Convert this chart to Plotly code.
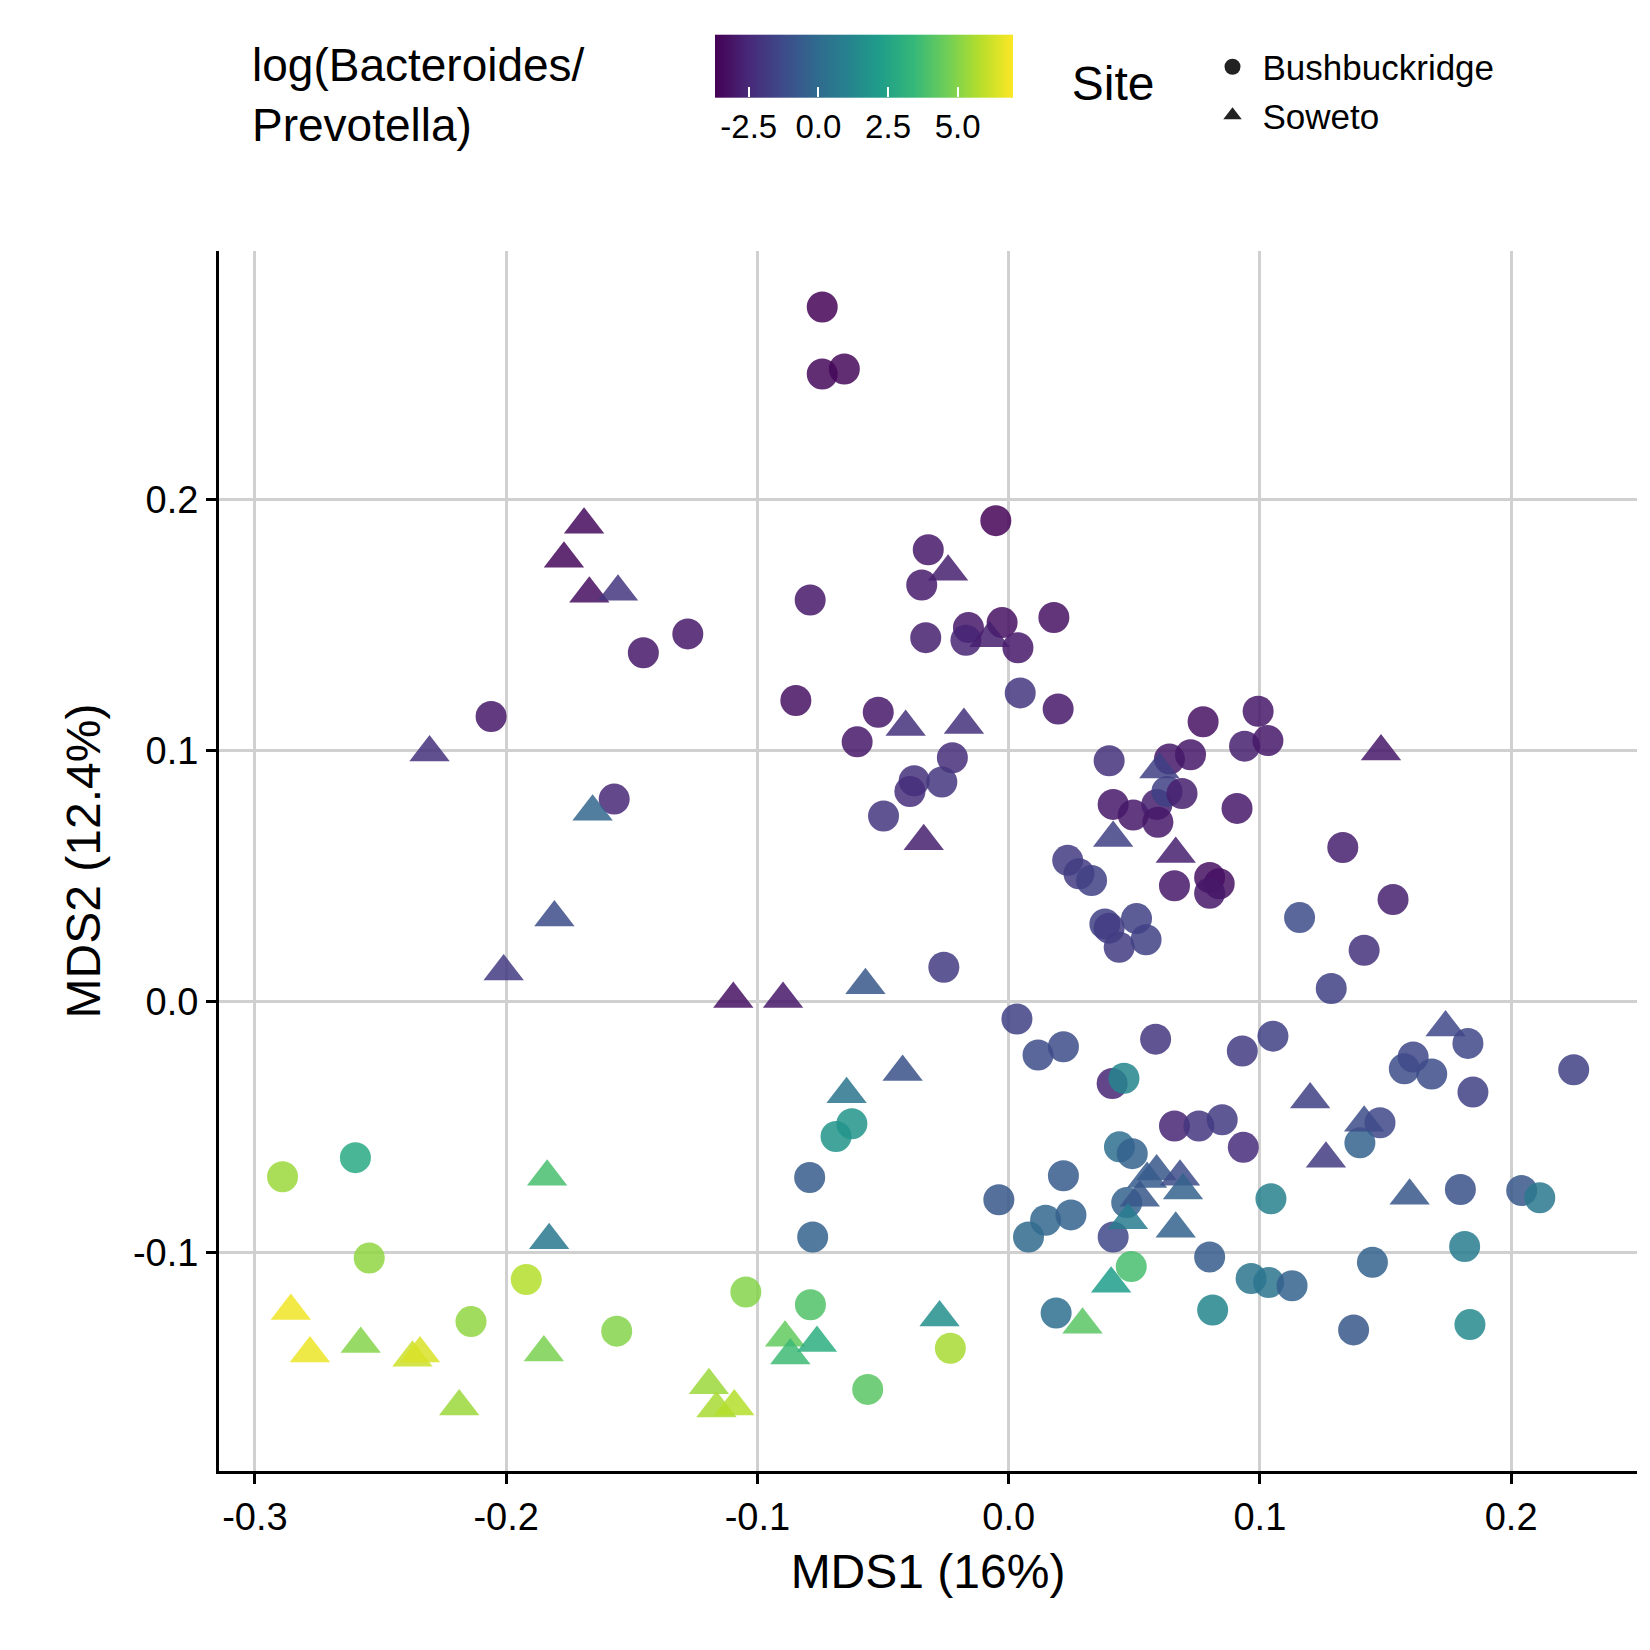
import plotly.graph_objects as go

# Bushbuckridge (circles): MDS1, MDS2, log(Bacteroides/Prevotella)
bb_x = [-0.0742, -0.0742, -0.0654, -0.0051, -0.032, -0.0346, -0.033, -0.079, -0.016, -0.017, -0.0026, 0.0037, 0.018,
        -0.1277, -0.1454, -0.206, -0.0847, -0.0519, -0.0603, 0.0046, 0.0197, -0.0224, -0.0376, -0.0393, -0.0266, -0.0498,
        -0.157, 0.040, 0.0416, 0.0496, 0.059, 0.0594, 0.064, 0.063, 0.069, 0.0724, 0.0774, 0.0993, 0.0939, 0.1032, 0.0909,
        0.066, 0.080, 0.0838, 0.080, 0.133, 0.153, 0.0235, 0.028, 0.033, 0.0383, 0.040, 0.044, 0.0509, 0.0547, -0.0258,
        0.1158, 0.1415, 0.1284, 0.0033, 0.0117, 0.0218, 0.0585, 0.093, 0.1052, 0.0412, 0.0459, 0.066, 0.0757, 0.085,
        0.0934, 0.161, 0.1575, 0.1684, 0.1828, 0.1848, 0.2249, 0.1478, 0.1398, 0.0441, 0.0492, 0.047, -0.0039, -0.0792,
        0.0218, 0.0147, 0.0248, 0.0079, -0.078, 0.0416, 0.080, 0.1044, 0.2042, 0.2114, 0.1798, 0.1815, 0.0965, 0.1035,
        0.1128, 0.1448, 0.0812, 0.0189, 0.1373, 0.1836, -0.0687, -0.0624, 0.0488, -0.26, -0.289, -0.2545, -0.192, -0.214,
        -0.156, -0.1046, -0.0789, -0.0561, -0.0232]
bb_y = [0.2767, 0.250, 0.252, 0.1916, 0.180, 0.166, 0.145, 0.160, 0.149, 0.144, 0.151, 0.141, 0.153,
        0.1465, 0.139, 0.1136, 0.120, 0.1153, 0.1035, 0.123, 0.1166, 0.0972, 0.088, 0.0837, 0.0875, 0.074,
        0.0807, 0.096, 0.0786, 0.0744, 0.0786, 0.0715, 0.0967, 0.0837, 0.0829, 0.0984, 0.1115, 0.1157, 0.1018, 0.104, 0.077,
        0.0462, 0.0495, 0.047, 0.0432, 0.0614, 0.0407, 0.0563, 0.051, 0.0483, 0.031, 0.0293, 0.0217, 0.0331, 0.0247, 0.0137,
        0.0335, 0.0205, 0.0053, -0.0069, -0.0212, -0.0179, -0.0149, -0.0196, -0.0137, -0.0326, -0.0305, -0.0495, -0.0495, -0.047,
        -0.058, -0.022, -0.0267, -0.0288, -0.0166, -0.036, -0.0271, -0.0482, -0.0562, -0.0578, -0.0605, -0.080, -0.0789, -0.070,
        -0.0693, -0.087, -0.0849, -0.0937, -0.0937, -0.0937, -0.1017, -0.0785, -0.0752, -0.0781, -0.0748, -0.0975, -0.1102, -0.1118,
        -0.1131, -0.1038, -0.1228, -0.124, -0.1307, -0.1286, -0.0537, -0.0486, -0.1055, -0.0621, -0.0697, -0.1021, -0.1106, -0.1274,
        -0.1312, -0.1156, -0.1207, -0.1544, -0.138]
bb_c = [-3.6, -3.5, -3.5, -3.6, -3.0, -2.9, -2.8, -3.0, -3.0, -2.6, -3.2, -3.0, -3.2,
        -3.0, -3.0, -3.0, -3.2, -3.0, -3.0, -2.0, -3.0, -2.3, -2.2, -2.3, -2.0, -2.0,
        -2.5, -2.2, -3.0, -3.0, -2.8, -3.0, -3.0, -1.6, -2.8, -3.0, -3.2, -3.0, -2.8, -3.0, -3.0,
        -3.0, -3.2, -3.2, -3.0, -2.8, -2.8, -1.8, -1.8, -1.6, -1.6, -1.8, -1.8, -1.6, -1.6, -1.8,
        -1.2, -2.2, -1.6, -1.6, -1.2, -1.2, -2.0, -1.8, -1.6, -2.6, 1.2, -2.6, -2.0, -1.8,
        -2.4, -1.4, -1.2, -1.2, -1.4, -1.6, -1.6, -1.4, -0.4, 0.2, -0.4, -0.4, -0.8, -0.6,
        -0.6, -0.2, -0.4, 0.0, -0.4, -1.4, -0.6, 1.0, -0.8, 0.6, -1.0, 0.8, 0.4, 0.4,
        -0.4, -0.4, 1.2, 0.2, -0.8, 1.4, 1.8, 1.8, 3.8, 2.8, 5.4, 5.2, 5.8, 5.2,
        5.0, 5.0, 4.0, 4.2, 5.6]

# Soweto (triangles)
sw_x = [-0.169, -0.177, -0.1669, -0.1555, -0.0241, -0.0076, -0.2305, -0.041, -0.0178, -0.1656, -0.0338, 0.060, 0.0416,
        0.0665, 0.1482, -0.1808, -0.201, -0.1096, -0.0898, -0.057, -0.0422, -0.0645, 0.1739, 0.12, 0.1263, 0.1415, 0.1596,
        0.0589, 0.0551, 0.0522, 0.0682, 0.0694, 0.0665, 0.0475, 0.0408, 0.0294, -0.0275, -0.1837, -0.1829, -0.2857,
        -0.2781, -0.2579, -0.2373, -0.2343, -0.2187, -0.185, -0.089, -0.0869, -0.0763, -0.1193, -0.1163, -0.1092]
sw_y = [0.190, 0.1764, 0.1625, 0.1633, 0.1713, 0.1448, 0.0993, 0.1094, 0.1102, 0.0757, 0.0639, 0.0925, 0.0652,
        0.0588, 0.0997, 0.0335, 0.012, 0.0011, 0.0011, 0.0066, -0.028, -0.0368, -0.0103, -0.0389, -0.0625, -0.0482, -0.0773,
        -0.0676, -0.0706, -0.0781, -0.0697, -0.0752, -0.0904, -0.087, -0.1123, -0.1287, -0.1258, -0.0697, -0.095, -0.1232,
        -0.1401, -0.1363, -0.1418, -0.1401, -0.1612, -0.1397, -0.1338, -0.1409, -0.1359, -0.1527, -0.162, -0.1612]
sw_c = [-3.4, -3.5, -3.3, -2.0, -2.8, -2.8, -2.2, -2.2, -2.2, -0.2, -2.8, -1.6, -1.6,
        -2.8, -3.0, -1.2, -1.8, -3.2, -3.0, -0.8, -1.0, 0.4, -1.4, -1.6, -1.8, -1.2, -0.8,
        -0.8, -0.6, -0.8, -1.2, -0.4, -0.4, 0.8, 2.2, 4.2, 1.6, 3.8, 0.6, 6.8,
        6.7, 5.0, 6.2, 6.4, 5.4, 4.8, 4.4, 3.6, 3.0, 5.4, 5.6, 5.8]

fig = go.Figure()
fig.add_trace(go.Scatter(x=bb_x, y=bb_y, mode="markers", showlegend=False,
                         marker=dict(symbol="circle", size=31, color=bb_c, coloraxis="coloraxis", opacity=0.85)))
fig.add_trace(go.Scatter(x=sw_x, y=sw_y, mode="markers", showlegend=False,
                         marker=dict(symbol="triangle-up", size=35, color=sw_c, coloraxis="coloraxis", opacity=0.85)))
# legend entries
fig.add_trace(go.Scatter(x=[None], y=[None], mode="markers", name="Bushbuckridge",
                         marker=dict(symbol="circle", size=22, color="#222")))
fig.add_trace(go.Scatter(x=[None], y=[None], mode="markers", name="Soweto",
                         marker=dict(symbol="triangle-up", size=26, color="#222")))

axis = dict(showgrid=True, gridcolor="#d0d0d0", gridwidth=3, zeroline=False, showline=True,
            linecolor="black", linewidth=3, ticks="outside", ticklen=10, tickwidth=2.5, tickcolor="black",
            tickfont=dict(size=38, color="black"), mirror=False)
fig.update_layout(
    width=1650, height=1650, plot_bgcolor="white", paper_bgcolor="white",
    font=dict(family="Liberation Sans, Arial", color="black"),
    margin=dict(l=211, r=21, t=243, b=187),
    xaxis=dict(axis, range=[-0.3143, 0.2501], tickvals=[-0.3, -0.2, -0.1, 0.0, 0.1, 0.2],
               ticktext=["-0.3", "-0.2", "-0.1", "0.0", "0.1", "0.2"],
               title=dict(text="MDS1 (16%)", font=dict(size=48), standoff=18)),
    yaxis=dict(axis, range=[-0.1869, 0.299], tickvals=[-0.1, 0.0, 0.1, 0.2],
               ticktext=["-0.1", "0.0", "0.1", "0.2"],
               title=dict(text="MDS2 (12.4%)", font=dict(size=48), standoff=18)),
    coloraxis=dict(colorscale="Viridis", cmin=-3.7, cmax=7.0,
                   colorbar=dict(orientation="h", x=0.343, xanchor="left", y=1.128, yanchor="middle",
                                 len=318, lenmode="pixels", thickness=63, outlinewidth=0,
                                 tickvals=[-2.5, 0.0, 2.5, 5.0], ticktext=["-2.5", "0.0", "2.5", "5.0"],
                                 ticks="inside", ticklen=10, tickcolor="white", tickwidth=1.5,
                                 tickfont=dict(size=33, color="black"))),
    legend=dict(x=0.60, xanchor="left", y=1.175, yanchor="top", font=dict(size=35),
                title=dict(text="Site   ", side="left", font=dict(size=48)),
                itemwidth=50, tracegroupgap=14),
    annotations=[dict(text="log(Bacteroides/<br>Prevotella)", xref="paper", yref="paper",
                      x=0.022, y=1.128, xanchor="left", yanchor="middle", showarrow=False,
                      align="left", font=dict(size=46))],
)
fig.write_html("out.html")
